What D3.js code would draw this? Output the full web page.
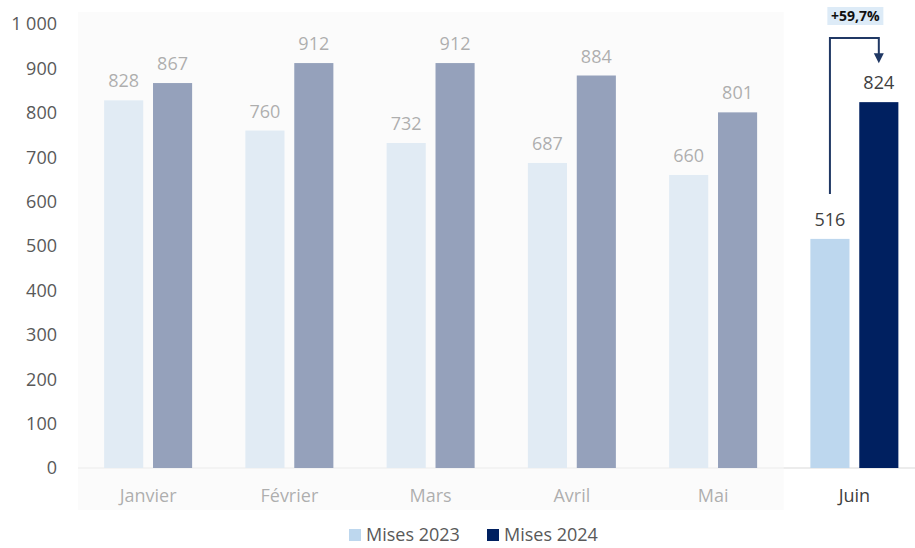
<!DOCTYPE html>
<html>
<head>
<meta charset="utf-8">
<script src="https://cdn.jsdelivr.net/npm/d3@7"></script>
<style>
  html, body { margin: 0; padding: 0; background: #fff; }
  svg { display: block; font-family: "Open Sans", "Noto Sans", sans-serif; }
</style>
</head>
<body>
<svg id="chart" width="915" height="548"></svg>
<script>
  // values
  var months = ["Janvier", "Février", "Mars", "Avril", "Mai", "Juin"];
  var mises2023 = [828, 760, 732, 687, 660, 516];
  var mises2024 = [867, 912, 912, 884, 801, 824];
  var series = ["Mises 2023", "Mises 2024"];
  var yTicks = [0, 100, 200, 300, 400, 500, 600, 700, 800, 900, 1000];
  var growthLabel = "+59,7%";

  var colors = { "Mises 2023": "#bdd7ee", "Mises 2024": "#002060" };
  var fs = 18;

  var svg = d3.select("#chart");
  var fmt = function(v){ return d3.format(",")(v).replace(/,/g, " "); };

  var y = d3.scaleLinear().domain([0, 1000]).range([468, 24]);

  var x = d3.scaleBand()
    .domain(months)
    .range([77.5, 925])
    .paddingInner(0.377)
    .paddingOuter(0.1885);

  var xs = d3.scaleBand()
    .domain(series)
    .range([0, x.bandwidth()])
    .paddingInner(0.2);

  var rows = months.map(function(m, i){
    return { month: m, values: [
      { key: "Mises 2023", value: mises2023[i] },
      { key: "Mises 2024", value: mises2024[i] }
    ]};
  });

  // y axis labels (no line)
  svg.append("g").selectAll("text")
    .data(yTicks)
    .enter()
    .append("text")
    .attr("x", 57)
    .attr("y", function(d){ return y(d); })
    .attr("dy", "0.35em")
    .attr("text-anchor", "end")
    .attr("fill", "#595959")
    .attr("font-size", fs)
    .text(fmt);

  // baseline
  svg.append("line")
    .attr("x1", 78).attr("x2", 915)
    .attr("y1", y(0)).attr("y2", y(0))
    .attr("stroke", "#d9d9d9")
    .attr("stroke-width", 1);

  var groups = svg.append("g").selectAll("g")
    .data(rows)
    .enter()
    .append("g")
    .attr("transform", function(d){ return "translate(" + x(d.month) + ",0)"; });

  groups.selectAll("rect")
    .data(function(d){ return d.values; })
    .enter()
    .append("rect")
    .attr("x", function(d){ return xs(d.key); })
    .attr("width", xs.bandwidth())
    .attr("y", function(d){ return y(d.value); })
    .attr("height", function(d){ return y(0) - y(d.value); })
    .attr("fill", function(d){ return colors[d.key]; });

  groups.selectAll("text.val")
    .data(function(d){ return d.values; })
    .enter()
    .append("text")
    .attr("class", "val")
    .attr("x", function(d){ return xs(d.key) + xs.bandwidth() / 2; })
    .attr("y", function(d){ return y(d.value) - 13; })
    .attr("text-anchor", "middle")
    .attr("fill", "#404040")
    .attr("font-size", fs)
    .text(function(d){ return d.value; });

  // month labels
  svg.append("g").selectAll("text")
    .data(months)
    .enter()
    .append("text")
    .attr("x", function(d){ return x(d) + x.bandwidth() / 2; })
    .attr("y", 502)
    .attr("text-anchor", "middle")
    .attr("fill", "#404040")
    .attr("font-size", fs)
    .text(function(d){ return d; });

  // fade veil over Janvier..Mai
  var step = x.step();
  var pad = (step - x.bandwidth()) / 2;
  svg.append("rect")
    .attr("x", x("Janvier") - pad + 0.5)
    .attr("width", x("Mai") + x.bandwidth() + pad - (x("Janvier") - pad + 0.5))
    .attr("y", 12)
    .attr("height", 498)
    .attr("fill", "#f9f9f9")
    .attr("opacity", 0.6);

  // growth arrow on Juin
  var last = months.length - 1;
  var xa = x("Juin") + xs("Mises 2023") + xs.bandwidth() / 2;
  var xb = x("Juin") + xs("Mises 2024") + xs.bandwidth() / 2;
  var yTop = 38;
  var yStart = y(mises2023[last]) - 45;
  var yTip = y(mises2024[last]) - 39;

  svg.append("path")
    .attr("d", "M" + xa + "," + yStart + "V" + yTop + "H" + xb + "V" + (yTip - 8))
    .attr("fill", "none")
    .attr("stroke", "#203864")
    .attr("stroke-width", 2);

  svg.append("path")
    .attr("d", "M" + (xb - 5) + "," + (yTip - 10) + "L" + (xb + 5) + "," + (yTip - 10) + "L" + xb + "," + yTip + "Z")
    .attr("fill", "#203864");

  var gx = (xa + xb) / 2 + 1;
  svg.append("rect")
    .attr("x", gx - 28)
    .attr("y", 7)
    .attr("width", 56)
    .attr("height", 18)
    .attr("fill", "#ddebf7");

  svg.append("text")
    .attr("x", gx)
    .attr("y", 16)
    .attr("dy", "0.35em")
    .attr("text-anchor", "middle")
    .attr("font-size", 14)
    .attr("font-weight", "bold")
    .attr("fill", "#111")
    .text(growthLabel);

  // legend
  var legend = svg.append("g").selectAll("g")
    .data(series)
    .enter()
    .append("g")
    .attr("transform", function(d, i){ return "translate(" + (349 + i * 138) + ",0)"; });

  legend.append("rect")
    .attr("x", 0).attr("y", 529)
    .attr("width", 12).attr("height", 12)
    .attr("fill", function(d){ return colors[d]; });

  legend.append("text")
    .attr("x", 17).attr("y", 541)
    .attr("fill", "#595959")
    .attr("font-size", fs)
    .text(function(d){ return d; });
</script>
</body>
</html>
